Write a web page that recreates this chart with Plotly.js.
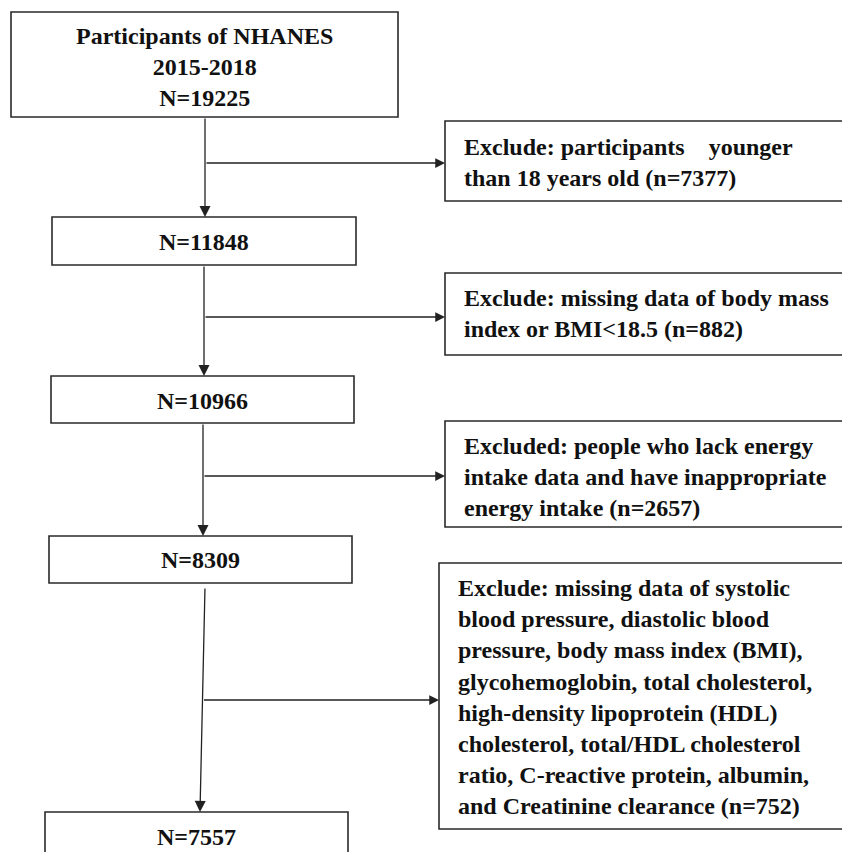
<!DOCTYPE html>
<html>
<head>
<meta charset="utf-8">
<script src="https://cdn.plot.ly/plotly-3.0.1.min.js"></script>
<style>
  html, body { margin: 0; padding: 0; background: #ffffff; }
  #chart { width: 842px; height: 852px; }
</style>
</head>
<body>
<div id="chart"></div>
<script>
// ---------- data ----------
const studyName = 'Participants of NHANES';
const studyYears = '2015-2018';
const stepN = [19225, 11848, 10966, 8309, 7557];
const excludeN = [7377, 882, 2657, 752];
const excludeLines = [
  ['Exclude: participants&nbsp;&nbsp;&nbsp; younger', 'than 18 years old (n={n})'],
  ['Exclude: missing data of body mass', 'index or BMI<18.5 (n={n})'],
  ['Excluded: people who lack energy', 'intake data and have inappropriate', 'energy intake (n={n})'],
  ['Exclude: missing data of systolic', 'blood pressure, diastolic blood',
   'pressure, body mass index (BMI),', 'glycohemoglobin, total cholesterol,',
   'high-density lipoprotein (HDL)', 'cholesterol, total/HDL cholesterol',
   'ratio, C-reactive protein, albumin,', 'and Creatinine clearance (n={n})']
];

// ---------- layout geometry (pixels) ----------
const W = 842, H = 852;
const mainBoxes = [
  {x0: 11, x1: 398, y0: 12,  y1: 117, ty: 67},
  {x0: 52, x1: 356, y0: 217, y1: 265, ty: 242},
  {x0: 51, x1: 354, y0: 376, y1: 423, ty: 401},
  {x0: 49, x1: 352, y0: 536, y1: 583, ty: 560},
  {x0: 45, x1: 348, y0: 812, y1: 880, ty: 837}
];
const exBoxes = [
  {x0: 445, x1: 880, y0: 121, y1: 201, tx: 462, ty: 162},
  {x0: 445, x1: 880, y0: 273, y1: 355, tx: 462, ty: 313},
  {x0: 445, x1: 880, y0: 421, y1: 527, tx: 462, ty: 477},
  {x0: 439, x1: 880, y0: 563, y1: 829, tx: 456, ty: 697}
];
const stemX = [[205, 205], [204, 204], [203, 203], [205, 200]];
const stemGapTop = [0, 0, 0, 4];
const branchY = [163, 317, 476, 700];

const fontFam = '"Liberation Serif", "Times New Roman", Times, serif';
const txtColor = '#111111';
const lineColor = '#222222';

const shapes = [];
const annotations = [];

function boxShape(b) {
  return {type: 'rect', xref: 'x', yref: 'y', x0: b.x0, x1: b.x1, y0: b.y0, y1: b.y1,
          line: {color: '#2a2a2a', width: 1.6}, fillcolor: 'rgba(0,0,0,0)', layer: 'above'};
}

mainBoxes.forEach((b, i) => {
  shapes.push(boxShape(b));
  const label = i === 0
    ? `<b>${studyName}</b><br><b>${studyYears}</b><br><b>N=${stepN[i]}</b>`
    : `<b>N=${stepN[i]}</b>`;
  annotations.push({
    xref: 'x', yref: 'y', x: (b.x0 + b.x1) / 2, y: b.ty, text: label,
    showarrow: false, xanchor: 'center', yanchor: 'middle', align: 'center',
    font: {family: fontFam, size: 24, color: txtColor}
  });
});

exBoxes.forEach((b, i) => {
  shapes.push(boxShape(b));
  const text = excludeLines[i].map(s => '<b>' + s.replace('{n}', excludeN[i]).replace('<18', '&lt;18') + '</b>').join('<br>');
  annotations.push({
    xref: 'x', yref: 'y', x: b.tx, y: b.ty, text: text,
    showarrow: false, xanchor: 'left', yanchor: 'middle', align: 'left',
    font: {family: fontFam, size: 24, color: txtColor}
  });
});

// connectors
for (let i = 0; i < 4; i++) {
  const from = mainBoxes[i], to = mainBoxes[i + 1];
  const xTop = stemX[i][0], xBot = stemX[i][1];
  const yTop = from.y1 + stemGapTop[i], yBot = to.y0;
  // vertical arrow
  annotations.push({
    xref: 'x', yref: 'y', axref: 'x', ayref: 'y',
    x: xBot, y: yBot, ax: xTop, ay: yTop, text: '',
    showarrow: true, arrowhead: 2, arrowsize: 1.7, arrowwidth: 1.3,
    arrowcolor: lineColor, standoff: 0, startstandoff: 0
  });
  // branch arrow
  const t = (branchY[i] - yTop) / (yBot - yTop);
  const xb = xTop + (xBot - xTop) * t;
  annotations.push({
    xref: 'x', yref: 'y', axref: 'x', ayref: 'y',
    x: exBoxes[i].x0, y: branchY[i], ax: xb, ay: branchY[i], text: '',
    showarrow: true, arrowhead: 2, arrowsize: 1.5, arrowwidth: 1.3,
    arrowcolor: lineColor, standoff: 0, startstandoff: 0
  });
}

const layout = {
  width: W, height: H,
  margin: {l: 0, r: 0, t: 0, b: 0, pad: 0},
  paper_bgcolor: '#ffffff', plot_bgcolor: '#ffffff',
  showlegend: false,
  xaxis: {range: [0, W], visible: false, fixedrange: true},
  yaxis: {range: [H, 0], visible: false, fixedrange: true},
  shapes: shapes,
  annotations: annotations
};

Plotly.newPlot('chart', [{x: [], y: [], type: 'scatter', mode: 'markers', hoverinfo: 'skip'}], layout,
  {staticPlot: true, displayModeBar: false});
</script>
</body>
</html>
